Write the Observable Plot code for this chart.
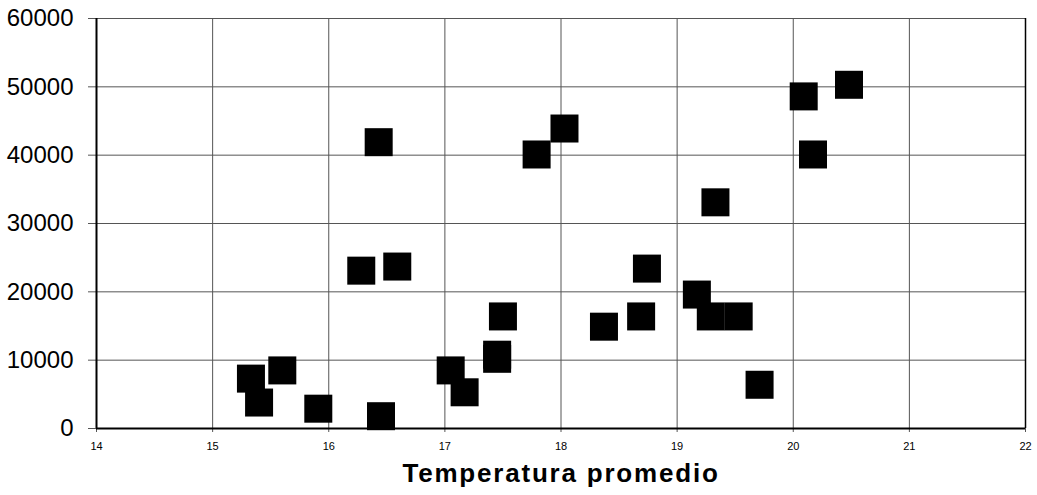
<!DOCTYPE html>
<html><head><meta charset="utf-8">
<script src="https://cdn.jsdelivr.net/npm/d3@7"></script>
<script src="https://cdn.jsdelivr.net/npm/@observablehq/plot@0.6"></script>
<style>body{margin:0;background:#fff;} #chart svg{display:block;}</style>
</head><body><div id="chart"></div>
<script>
const temperatura = [15.33, 15.40, 15.60, 15.91, 16.28, 16.43, 16.45, 16.59, 17.05, 17.17, 17.45, 17.45, 17.50, 17.79, 18.03, 18.37, 18.69, 18.74, 19.17, 19.29, 19.53, 19.33, 19.71, 20.09, 20.17, 20.48];
const valores    = [7300, 3800, 8500, 2900, 23100, 41900, 1800, 23700, 8500, 5300, 10800, 10200, 16400, 40100, 43900, 14900, 16400, 23400, 19600, 16400, 16400, 33100, 6400, 48600, 40100, 50300];
const xTicks = [14, 15, 16, 17, 18, 19, 20, 21, 22];
const yTicks = [0, 10000, 20000, 30000, 40000, 50000, 60000];
const xLabel = "Temperatura promedio";

const data = temperatura.map((t, i) => ({x: t, y: valores[i]}));

const chart = Plot.plot({
  width: 1037, height: 495,
  marginLeft: 96, marginRight: 12, marginTop: 18, marginBottom: 67,
  style: {fontFamily: "Arial, 'Liberation Sans', sans-serif", background: "#fff", color: "#000"},
  x: {domain: [14, 22], label: null},
  y: {domain: [0, 60000], label: null},
  marks: [
    Plot.gridX(xTicks, {stroke: "#555", strokeOpacity: 1}),
    Plot.gridY(yTicks, {stroke: "#555", strokeOpacity: 1}),
    Plot.axisY(yTicks, {tickSize: 8, tickPadding: 15, fontSize: 24, stroke: "#555", fill: "#000", tickFormat: d => String(d), label: null}),
    Plot.axisX(xTicks, {tickSize: 4, tickPadding: 10, fontSize: 11, stroke: "#555", fill: "#000", tickFormat: d => String(d), label: null}),
    Plot.ruleX([14], {stroke: "#000", strokeWidth: 2}),
    Plot.ruleX([22], {stroke: "#000", strokeWidth: 1.5}),
    Plot.ruleY([0], {stroke: "#000", strokeWidth: 2}),
    Plot.dot(data, {x: "x", y: "y", symbol: "square", r: 15.8, fill: "#000", stroke: null}),
    Plot.text([xLabel], {frameAnchor: "bottom", dy: 53, fontSize: 26, fontWeight: "bold", fill: "#000"})
  ]
});
chart.querySelectorAll("text").forEach(t => {
  if (t.textContent === xLabel) t.setAttribute("letter-spacing", "1.8");
});
document.getElementById("chart").appendChild(chart);
</script>
</body></html>
